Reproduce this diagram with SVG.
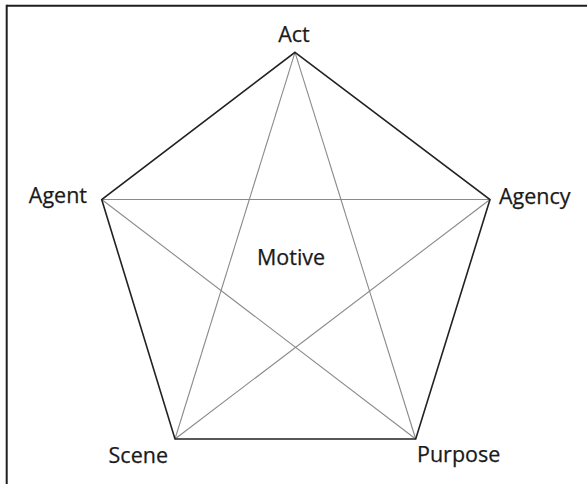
<svg xmlns="http://www.w3.org/2000/svg" width="587" height="484" viewBox="0 0 587 484">
<style>
.lbl{font-family:"Open Sans","Liberation Sans",sans-serif;font-size:21.5px;fill:#1a1a1a;stroke:#1a1a1a;stroke-width:0.25}
.edge{stroke:#222;stroke-width:1.6;fill:none;stroke-linejoin:miter}
.star{stroke:#8a8a8a;stroke-width:1.1;fill:none}
</style>
<rect width="587" height="484" fill="#fff"/>
<g id="frame">
<line x1="6.7" y1="5.7" x2="587" y2="5.7" stroke="#1e1e1e" stroke-width="2"/>
<line x1="6.7" y1="4.7" x2="6.7" y2="484" stroke="#1e1e1e" stroke-width="2"/>
</g>
<g id="connectors">
<line class="star" x1="101.7" y1="199.5" x2="490" y2="199.5"/>
<line class="star" x1="101.7" y1="199.5" x2="415.7" y2="439"/>
<line class="star" x1="490" y1="199.5" x2="175" y2="439"/>
<line class="star" x1="295" y1="52.3" x2="175" y2="439"/>
<line class="star" x1="295" y1="52.3" x2="415.7" y2="439"/>
<polygon class="edge" points="295,52.3 490,199.5 415.7,439 175,439 101.7,199.5"/>
</g>
<g id="act"><text class="lbl" x="294" y="42" text-anchor="middle">Act</text></g>
<g id="agent"><text class="lbl" x="87" y="203" text-anchor="end">Agent</text></g>
<g id="agency"><text class="lbl" x="499" y="204">Agency</text></g>
<g id="scene"><text class="lbl" x="168" y="463" text-anchor="end">Scene</text></g>
<g id="purpose"><text class="lbl" x="417" y="462">Purpose</text></g>
<g id="motive"><text class="lbl" x="257" y="265">Motive</text></g>
</svg>
